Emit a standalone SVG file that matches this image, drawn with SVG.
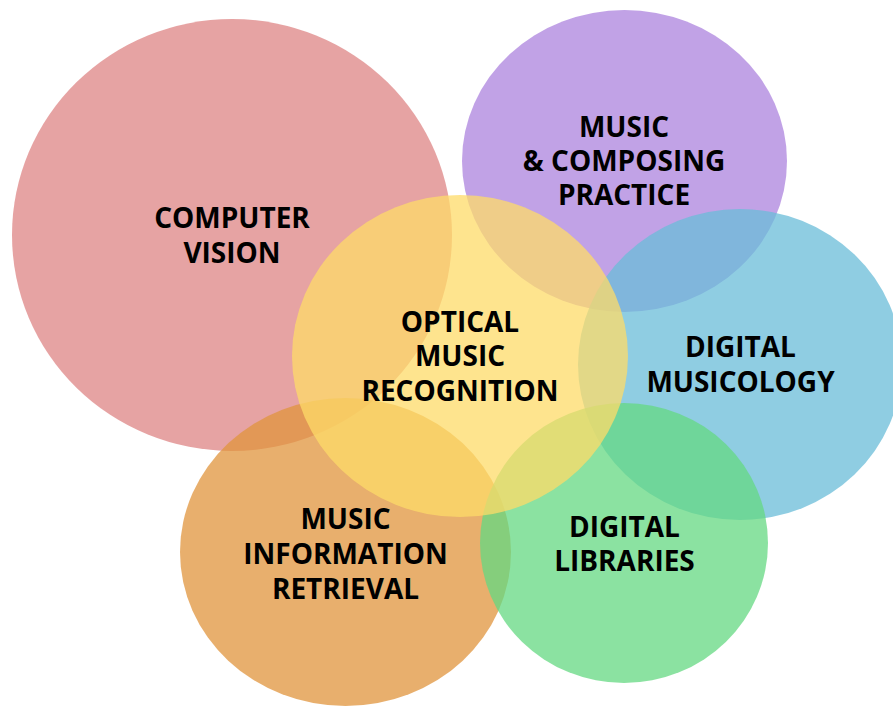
<svg xmlns="http://www.w3.org/2000/svg" width="893" height="706" viewBox="0 0 893 706">
<style>
.c{fill-opacity:0.75}
text{font-family:"Open Sans","Liberation Sans",sans-serif;font-weight:700;font-size:28px;fill:#000;text-anchor:middle}
</style>
<rect width="893" height="706" fill="#fff"/>
<g id="computer-vision">
<ellipse class="c" cx="232" cy="235" rx="220" ry="216" fill="#DE8484"/>
</g>
<g id="music-composing">
<ellipse class="c" cx="624.5" cy="161" rx="162.5" ry="151" fill="#AC83DE"/>
</g>
<g id="digital-musicology">
<ellipse class="c" cx="740" cy="364.5" rx="162" ry="155.5" fill="#6ABCD8"/>
</g>
<g id="mir">
<ellipse class="c" cx="345.5" cy="552" rx="165.5" ry="154" fill="#E0943C"/>
</g>
<g id="digital-libraries">
<ellipse class="c" cx="624" cy="543" rx="144" ry="140" fill="#64D882"/>
</g>
<g id="omr">
<ellipse class="c" cx="460" cy="356" rx="168" ry="161" fill="#FEDB68"/>
</g>
<g id="labels">
<text x="232" y="228">COMPUTER</text>
<text x="232" y="263">VISION</text>
<text x="624" y="137">MUSIC</text>
<text x="624" y="171">&amp; COMPOSING</text>
<text x="624" y="205">PRACTICE</text>
<text x="740.5" y="357">DIGITAL</text>
<text x="740.5" y="392">MUSICOLOGY</text>
<text x="460" y="332">OPTICAL</text>
<text x="460" y="366">MUSIC</text>
<text x="460" y="401">RECOGNITION</text>
<text x="345.5" y="529">MUSIC</text>
<text x="345.5" y="564">INFORMATION</text>
<text x="345.5" y="599">RETRIEVAL</text>
<text x="624.5" y="537">DIGITAL</text>
<text x="624.5" y="571">LIBRARIES</text>
</g>
<g id="connectors"/>
</svg>
